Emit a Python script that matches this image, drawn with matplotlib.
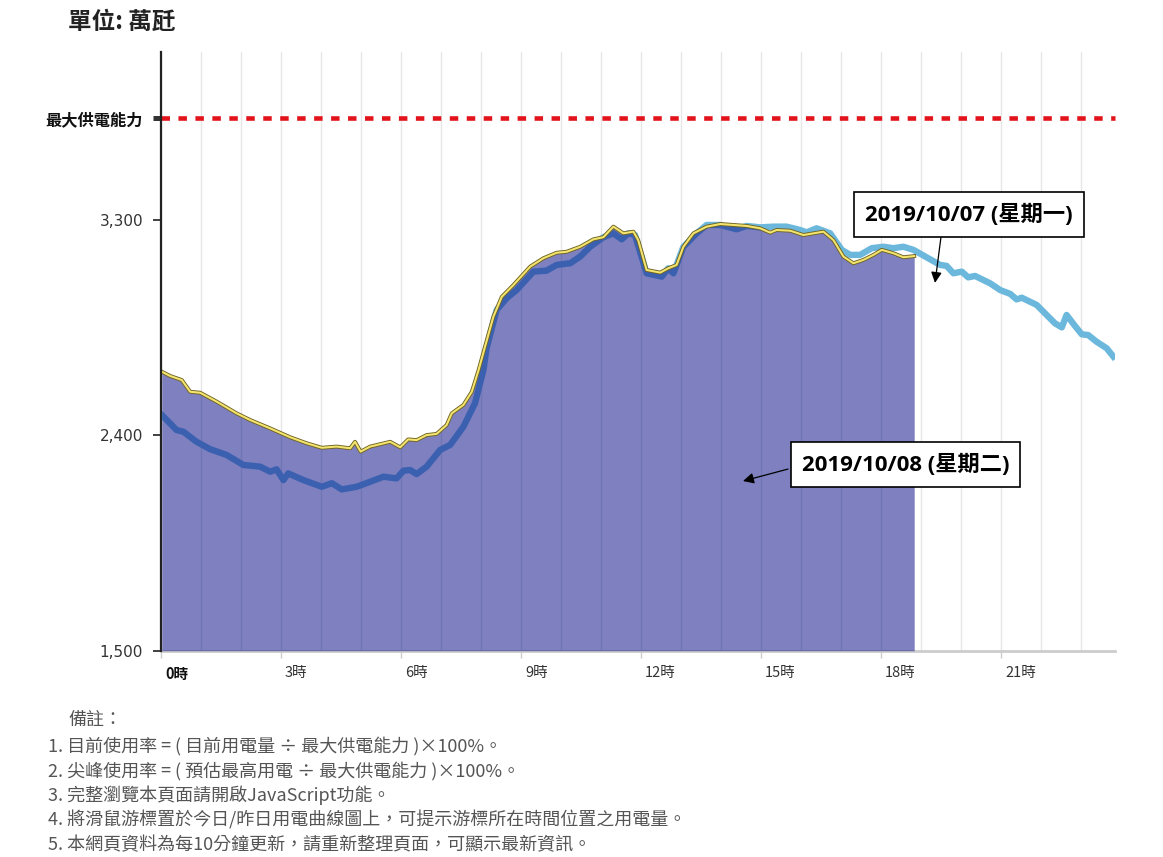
import matplotlib
matplotlib.use('Agg')
import matplotlib.pyplot as plt
import matplotlib.patheffects as pe
from matplotlib.transforms import ScaledTranslation

CJK = 'Noto Sans CJK TC'
plt.rcParams['font.family'] = ['DejaVu Sans', CJK]

# ---------------- data ----------------
unit_label = '單位: 萬瓩'
capacity_label = '最大供電能力'
capacity_value = 3725
y_ticks = [1500, 2400, 3300]
y_tick_labels = ['1,500', '2,400', '3,300']
x_ticks = [0, 3, 6, 9, 12, 15, 18, 21]
x_tick_labels = ['0時', '3時', '6時', '9時', '12時', '15時', '18時', '21時']
yesterday_label = '2019/10/07 (星期一)'
today_label = '2019/10/08 (星期二)'

yesterday_hours = [0.02, 0.39, 0.56, 0.89, 1.23, 1.64, 2.06, 2.48, 2.73, 2.89, 3.06, 3.18,
                   3.56, 4.02, 4.27, 4.52, 4.89, 5.23, 5.56, 5.89, 6.06, 6.23, 6.39, 6.64,
                   6.98, 7.23, 7.56, 7.85, 8.06, 8.14, 8.39, 8.64, 8.89, 9.31, 9.64, 9.89,
                   10.23, 10.48, 10.73, 11.06, 11.31, 11.52, 11.68, 11.85, 12.14, 12.52,
                   12.68, 12.81, 13.06, 13.39, 13.64, 13.98, 14.39, 14.64, 14.98, 15.31,
                   15.64, 15.98, 16.14, 16.39, 16.73, 17.02, 17.23, 17.48, 17.77, 18.06,
                   18.31, 18.56, 18.81, 19.18, 19.48, 19.64, 19.81, 20.02, 20.18, 20.35,
                   20.73, 20.98, 21.23, 21.39, 21.52, 21.89, 22.14, 22.35, 22.52, 22.64,
                   22.85, 23.02, 23.18, 23.39, 23.64, 23.81]
yesterday_load = [2485, 2422, 2415, 2373, 2342, 2318, 2276, 2269, 2248, 2258, 2213, 2241,
                  2213, 2185, 2200, 2174, 2185, 2206, 2227, 2220, 2252, 2255, 2238, 2269,
                  2339, 2360, 2436, 2534, 2673, 2764, 2924, 2973, 3007, 3084, 3088, 3112,
                  3119, 3147, 3188, 3228, 3244, 3219, 3244, 3237, 3077, 3063,
                  3098, 3077, 3188, 3244, 3279, 3279, 3261, 3275, 3269, 3272,
                  3272, 3258, 3248, 3265, 3244, 3175, 3154, 3154, 3182, 3188,
                  3182, 3188, 3175, 3140, 3112, 3108, 3077, 3084, 3060, 3066,
                  3035, 3007, 2991, 2968, 2975, 2945, 2903, 2868, 2851, 2903,
                  2857, 2822, 2819, 2791, 2764, 2729]

today_hours = [0.02, 0.23, 0.52, 0.73, 0.98, 1.39, 1.89, 2.23, 2.73, 3.23, 3.64, 4.02,
               4.39, 4.73, 4.85, 4.99, 5.23, 5.73, 5.98, 6.18, 6.39, 6.64, 6.89, 7.14,
               7.27, 7.56, 7.77, 7.94, 8.10, 8.31, 8.52, 8.81, 9.23, 9.56, 9.89, 10.14,
               10.48, 10.81, 11.06, 11.31, 11.56, 11.81, 11.93, 12.14, 12.48, 12.68,
               12.89, 13.06, 13.31, 13.64, 13.98, 14.31, 14.64, 14.98, 15.23, 15.39,
               15.73, 16.06, 16.31, 16.56, 16.81, 17.06, 17.31, 17.56, 17.81, 18.02,
               18.31, 18.56, 18.83]
today_load = [2666, 2648, 2631, 2582, 2578, 2541, 2492, 2464, 2429, 2392, 2367, 2348,
              2353, 2346, 2373, 2332, 2353, 2373, 2350, 2383, 2380, 2401, 2406, 2443,
              2492, 2527, 2582, 2673, 2770, 2896, 2979, 3028, 3105, 3140, 3163, 3167,
              3188, 3219, 3228, 3272, 3244, 3251, 3216, 3091, 3080, 3098,
              3112, 3188, 3244, 3272, 3283, 3279, 3275, 3265, 3247, 3258,
              3255, 3237, 3244, 3251, 3216, 3147, 3119, 3133, 3154, 3175,
              3161, 3144, 3149]

notes_title = '備註：'
notes = [
    '1. 目前使用率 = ( 目前用電量 ÷ 最大供電能力 )×100%。',
    '2. 尖峰使用率 = ( 預估最高用電 ÷ 最大供電能力 )×100%。',
    '3. 完整瀏覽本頁面請開啟JavaScript功能。',
    '4. 將滑鼠游標置於今日/昨日用電曲線圖上，可提示游標所在時間位置之用電量。',
    '5. 本網頁資料為每10分鐘更新，請重新整理頁面，可顯示最新資訊。',
]

# ---------------- figure ----------------
W, H = 1163, 857
fig = plt.figure(figsize=(W / 100, H / 100), dpi=100)
ax = fig.add_axes([161 / W, (H - 650.7) / H, (1115 - 161) / W, (650.7 - 51.7) / H])
ax.set_xlim(0, 23.85)
ax.set_ylim(1500, 4003)

# hourly vertical grid
ax.set_xticks(range(0, 24), minor=True)
ax.grid(True, axis='x', which='both', color='#e6e6e6', lw=1.0, zorder=0)
ax.set_axisbelow(True)

# yesterday line
ax.plot(yesterday_hours, yesterday_load, color='#6cb8dc', lw=4.6,
        solid_joinstyle='round', zorder=2)
# today area (semi-transparent)
ax.fill_between(today_hours, 1500, today_load, color='#14188c', alpha=0.55,
                lw=0, zorder=3)
ax.plot(today_hours, today_load, color='#f2e46e', lw=1.5, zorder=4,
        path_effects=[pe.Stroke(linewidth=2.8, foreground='#6f6222'), pe.Normal()])

# capacity line
ax.axhline(capacity_value, color='#e3131b', lw=3.3, linestyle=(0, (1.85, 1.85)),
           zorder=5, clip_on=False)

# spines
for s in ['top', 'right']:
    ax.spines[s].set_visible(False)
ax.spines['left'].set_color('#222222')
ax.spines['left'].set_linewidth(1.6)
ax.spines['left'].set_zorder(6)
ax.spines['bottom'].set_color('#cccccc')
ax.spines['bottom'].set_linewidth(2.0)

# y ticks
ax.set_yticks(y_ticks + [capacity_value])
ax.set_yticklabels(y_tick_labels + [capacity_label])
ax.tick_params(axis='y', which='major', length=6, width=1.3, color='#333333',
               labelsize=11, labelcolor='#333333', pad=7)
ylabs = ax.get_yticklabels()
ylabs[-1].set_fontweight('bold')
ylabs[-1].set_color('#111111')
ylabs[-1].set_fontsize(11.7)
ylabs[-1].set_family([CJK, 'DejaVu Sans'])
cap_tick = ax.yaxis.get_major_ticks()[-1]
cap_tick.tick1line.set_markeredgewidth(3.6)
cap_tick.tick1line.set_color('#000000')

# x ticks
ax.set_xticks(x_ticks)
ax.set_xticklabels(x_tick_labels)
ax.tick_params(axis='x', which='major', length=5, width=1, color='#cccccc',
               labelsize=10.5, labelcolor='#333333', pad=6)
ax.tick_params(axis='x', which='minor', length=0)
off = ScaledTranslation(4 / 100, 0, fig.dpi_scale_trans)
for i, lab in enumerate(ax.get_xticklabels()):
    lab.set_ha('left')
    lab.set_family([CJK, 'DejaVu Sans'])
    lab.set_transform(lab.get_transform() + off)
    if i == 0:
        lab.set_fontweight('bold')
        lab.set_color('#111111')

# annotations
box = dict(boxstyle='square,pad=0.5', fc='white', ec='black', lw=1.2)
font_ann = dict(fontsize=16, fontweight='bold', family=['Open Sans', CJK], color='black')
ax.text(20.19, 3323, yesterday_label, ha='center', va='center', bbox=box, zorder=8, **font_ann)
ax.text(18.61, 2278, today_label, ha='center', va='center', bbox=box, zorder=8, **font_ann)
arrow = dict(arrowstyle='-|>', color='black', lw=0.9, mutation_scale=16, shrinkA=0, shrinkB=0)
ax.annotate('', xy=(19.35, 3037), xytext=(19.5, 3229), arrowprops=arrow, zorder=7)
ax.annotate('', xy=(14.55, 2209), xytext=(15.675, 2259), arrowprops=arrow, zorder=7)

# title
fig.text(68 / W, 1 - 22 / H, unit_label, ha='left', va='center', fontsize=17,
         fontweight='bold', family=[CJK, 'DejaVu Sans'], color='#222222')

# notes
fig.text(68 / W, 1 - 720 / H, notes_title, ha='left', va='center', fontsize=13,
         family=[CJK, 'DejaVu Sans'], color='#555555')
for i, line in enumerate(notes):
    fig.text(48 / W, 1 - (746 + 24.8 * i) / H, line, ha='left', va='center', fontsize=13,
             family=[CJK, 'DejaVu Sans'], color='#555555')

fig.savefig('out.png', dpi=100)
